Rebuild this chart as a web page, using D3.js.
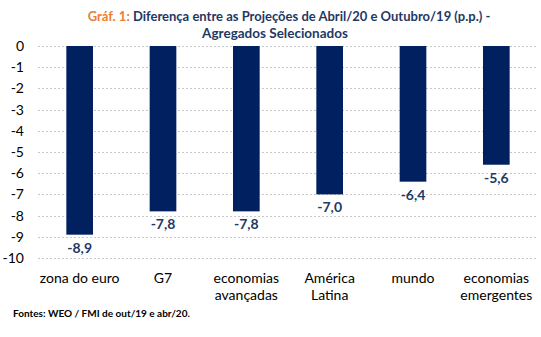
<!DOCTYPE html>
<meta charset="utf-8">
<style>
body { margin: 0; background: #fff; }
text { font-family: Lato, 'Open Sans', sans-serif; }
.grid line { stroke: #c8c8c8; stroke-width: 1px; stroke-dasharray: 2,2; shape-rendering: crispEdges; }
.bar { fill: #002060; }
</style>
<svg width="541" height="337"></svg>
<script src="https://d3js.org/d3.v7.min.js"></script>
<script>
var categories = [["zona do euro"], ["G7"], ["economias", "avançadas"], ["América", "Latina"], ["mundo"], ["economias", "emergentes"]];
var values = [-8.9, -7.8, -7.8, -7.0, -6.4, -5.6];
var yTicks = [0, -1, -2, -3, -4, -5, -6, -7, -8, -9, -10];

var svg = d3.select("svg"),
    margin = {top: 46, right: 3, bottom: 79, left: 38},
    width = +svg.attr("width") - margin.left - margin.right,
    height = +svg.attr("height") - margin.top - margin.bottom;

var names = categories.map(function(d) { return d.join(" "); });
var x = d3.scaleBand().domain(names).range([0, width]).paddingInner(0.68).paddingOuter(0.34);
var y = d3.scaleLinear().domain([0, -10]).range([0, height]);

var g = svg.append("g").attr("transform", "translate(" + margin.left + "," + margin.top + ")");

// title
var title = svg.append("text")
    .attr("x", 289).attr("y", 21)
    .attr("text-anchor", "middle")
    .style("font-size", "13px").style("font-weight", "bold");
title.append("tspan").attr("fill", "#ED7D31").text("Gráf. 1: ");
title.append("tspan").attr("fill", "#1F3864").text("Diferença entre as Projeções de Abril/20 e Outubro/19 (p.p.) -");
svg.append("text")
    .attr("x", 275).attr("y", 38)
    .attr("text-anchor", "middle")
    .attr("fill", "#1F3864")
    .style("font-size", "13.5px").style("font-weight", "bold")
    .text("Agregados Selecionados");

// gridlines
g.append("g").attr("class", "grid")
  .selectAll("line").data(yTicks).enter().append("line")
    .attr("x1", 0).attr("x2", width)
    .attr("y1", function(d) { return Math.round(y(d)) + 0.5; })
    .attr("y2", function(d) { return Math.round(y(d)) + 0.5; });

// y tick labels
g.selectAll(".ytick").data(yTicks).enter().append("text")
    .attr("class", "ytick")
    .attr("x", -14).attr("y", function(d) { return y(d); })
    .attr("dy", "0.35em")
    .attr("text-anchor", "end")
    .attr("fill", "#000")
    .style("font-size", "14px")
    .text(function(d) { return d; });

// bars
g.selectAll(".bar").data(values).enter().append("rect")
    .attr("class", "bar")
    .attr("x", function(d, i) { return x(names[i]); })
    .attr("width", x.bandwidth())
    .attr("y", y(0))
    .attr("height", function(d) { return y(d) - y(0); });

// value labels
g.selectAll(".val").data(values).enter().append("text")
    .attr("class", "val")
    .attr("x", function(d, i) { return x(names[i]) + x.bandwidth() / 2; })
    .attr("y", function(d) { return y(d) + 18; })
    .attr("text-anchor", "middle")
    .attr("fill", "#1F3864")
    .style("font-size", "14px").style("font-weight", "bold")
    .text(function(d) { return d.toFixed(1).replace(".", ","); });

// category labels
var cat = g.selectAll(".cat").data(categories).enter().append("text")
    .attr("class", "cat")
    .attr("x", function(d, i) { return x(names[i]) + x.bandwidth() / 2; })
    .attr("y", height + 25)
    .attr("text-anchor", "middle")
    .attr("fill", "#000")
    .style("font-size", "14px");
cat.selectAll("tspan").data(function(d) { return d; }).enter().append("tspan")
    .attr("x", function() { return d3.select(this.parentNode).attr("x"); })
    .attr("dy", function(d, i) { return i ? 17 : 0; })
    .text(function(d) { return d; });

// source note
svg.append("text")
    .attr("x", 13).attr("y", 317)
    .attr("fill", "#000")
    .style("font-size", "10px").style("font-weight", "bold")
    .text("Fontes: WEO / FMI de out/19 e abr/20.");
</script>
